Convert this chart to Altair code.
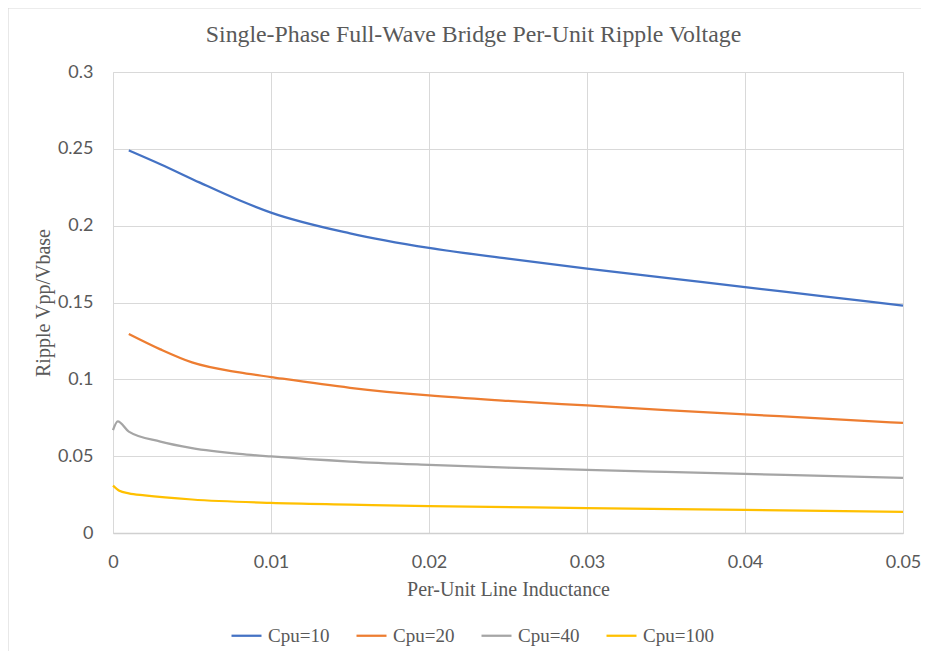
import altair as alt
import pandas as pd

chart_title = "Single-Phase  Full-Wave Bridge Per-Unit Ripple Voltage"
series_names = ["Cpu=10", "Cpu=20", "Cpu=40", "Cpu=100"]
colors = ["#4472C4", "#ED7D31", "#A5A5A5", "#FFC000"]

x_c10 = [0.001, 0.003, 0.0055, 0.008, 0.01, 0.015, 0.02, 0.025, 0.03, 0.035, 0.04, 0.045, 0.05]
y_c10 = [0.249, 0.240, 0.228, 0.2165, 0.2085, 0.195, 0.1855, 0.1785, 0.172, 0.166, 0.160, 0.154, 0.148]

x_c20 = [0.001, 0.003, 0.005, 0.008, 0.01, 0.015, 0.02, 0.025, 0.03, 0.035, 0.04, 0.045, 0.05]
y_c20 = [0.1295, 0.1195, 0.111, 0.1045, 0.1015, 0.0945, 0.0895, 0.086, 0.083, 0.080, 0.0772, 0.0745, 0.0716]

x_c40 = [0.0, 0.0003, 0.001, 0.003, 0.005, 0.008, 0.01, 0.015, 0.02, 0.025, 0.03, 0.035, 0.04, 0.045, 0.05]
y_c40 = [0.067, 0.0727, 0.066, 0.0595, 0.0553, 0.0515, 0.0498, 0.0465, 0.0443, 0.0425, 0.041, 0.0397, 0.0384, 0.0371, 0.0358]

x_c100 = [0.0, 0.0004, 0.001, 0.002, 0.005, 0.01, 0.015, 0.02, 0.03, 0.04, 0.05]
y_c100 = [0.0308, 0.0275, 0.0258, 0.0245, 0.0218, 0.0196, 0.0185, 0.0175, 0.0162, 0.015, 0.0138]

x_ticks = [0, 0.01, 0.02, 0.03, 0.04, 0.05]
y_ticks = [0, 0.05, 0.1, 0.15, 0.2, 0.25, 0.3]

rows = []
for name, xs, ys in zip(series_names,
                        [x_c10, x_c20, x_c40, x_c100],
                        [y_c10, y_c20, y_c40, y_c100]):
    for i, (xv, yv) in enumerate(zip(xs, ys)):
        rows.append({"series": name, "x": xv, "y": yv, "order": i})
df = pd.DataFrame(rows)

W, H = 790, 461
serif = "Liberation Serif"
sans = "Lato"
txt = "#595959"

lines = alt.Chart(df).mark_line(strokeWidth=2.25, interpolate="monotone").encode(
    x=alt.X("x:Q",
            scale=alt.Scale(domain=[0, 0.05], nice=False, zero=False),
            axis=alt.Axis(values=x_ticks, format="~g", title="Per-Unit Line Inductance",
                          grid=True, gridColor="#D9D9D9", domainColor="#D0D0D0",
                          domainWidth=1.3, ticks=False, labelPadding=20, labelFlush=False,
                          labelFont=sans, labelFontSize=18, labelColor=txt,
                          titleFont=serif, titleFontSize=20, titleFontWeight="normal",
                          titleColor=txt, titlePadding=8)),
    y=alt.Y("y:Q",
            scale=alt.Scale(domain=[0, 0.3], nice=False),
            axis=alt.Axis(values=y_ticks, format="~g", title="Ripple Vpp/Vbase",
                          grid=True, gridColor="#D9D9D9", domain=False,
                          ticks=False, labelPadding=20, labelFlush=False,
                          labelFont=sans, labelFontSize=18, labelColor=txt,
                          titleFont=serif, titleFontSize=20, titleFontWeight="normal",
                          titleColor=txt, titlePadding=4)),
    color=alt.Color("series:N",
                    scale=alt.Scale(domain=series_names, range=colors),
                    legend=alt.Legend(title=None, orient="none", direction="horizontal",
                                      legendX=117, legendY=547,
                                      symbolType="stroke", symbolSize=900,
                                      symbolStrokeWidth=2.25, labelOffset=5,
                                      columnPadding=22,
                                      labelFont=serif, labelFontSize=19, labelColor=txt)),
    order="order:Q",
)

frame_src = pd.DataFrame({"a": [0]})
border_top = alt.Chart(frame_src).mark_rule(stroke="#D9D9D9", strokeWidth=1.2, clip=False).encode(
    x=alt.value(-105), x2=alt.value(W + 18), y=alt.value(-64),
)
border_left = alt.Chart(frame_src).mark_rule(stroke="#D9D9D9", strokeWidth=1.2, clip=False).encode(
    x=alt.value(-105), y=alt.value(-64), y2=alt.value(H + 118),
)

title_mark = alt.Chart(pd.DataFrame({"t": [chart_title]})).mark_text(
    font=serif, fontSize=23.8, color=txt, align="center", baseline="middle"
).encode(
    text="t:N", x=alt.value(360.5), y=alt.value(-37),
)

chart = alt.layer(border_top, border_left, lines, title_mark).properties(
    width=W, height=H,
    autosize=alt.AutoSizeParams(type="none"),
    padding={"left": 105, "top": 64, "right": 18, "bottom": 118},
).configure_view(stroke=None).configure(background="white")

chart.save("out.html", embed_options={"renderer": "svg", "actions": False})
